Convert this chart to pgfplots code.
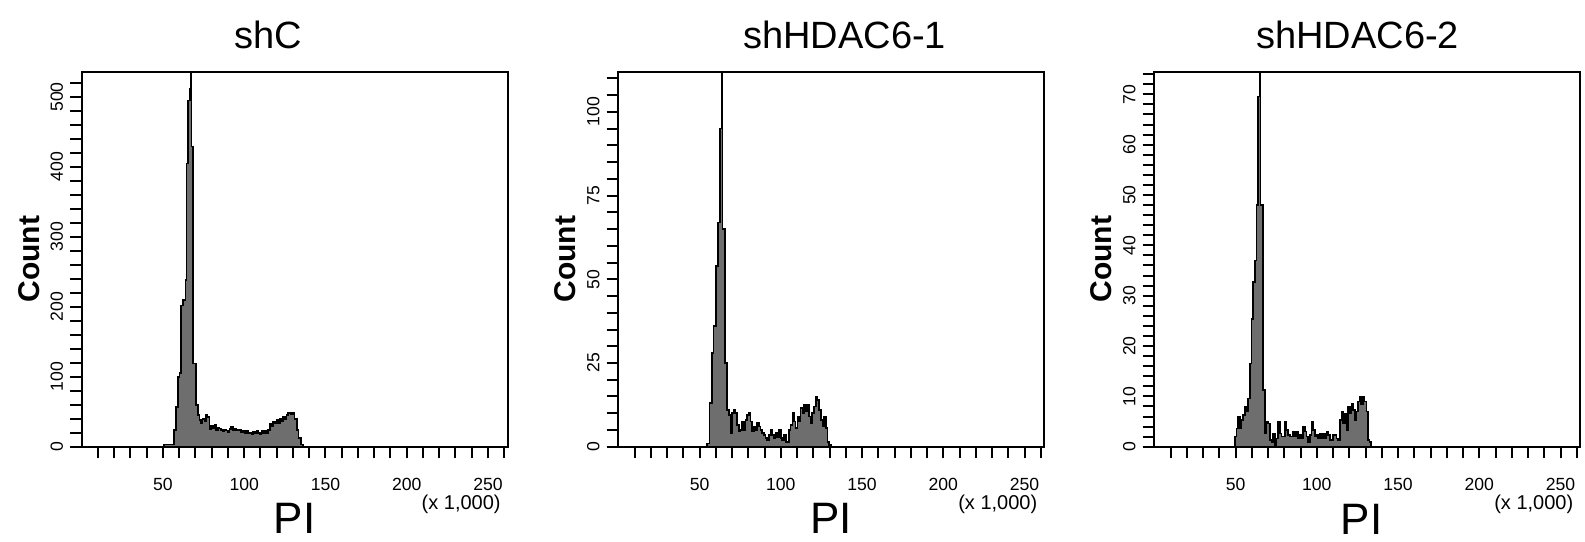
\documentclass[border=0pt]{standalone}
\usepackage{fontspec}
\setmainfont{Liberation Sans}
\usepackage{pgfplots}
\pgfplotsset{compat=1.18}
\definecolor{histgray}{RGB}{110,110,110}
\tikzset{pilabel/.style={anchor=base, inner sep=0pt, font=\fontsize{22}{22}\selectfont}}
\pgfplotsset{
  facs/.style={
    scale only axis, width=213pt, height=187.5pt, anchor=south west,
    xmin=0, xmax=262.144, ymin=0,
    axis line style={line width=1pt},
    tick style={line width=1pt, black},
    tick align=outside, tick pos=left,
    major tick length=5.8pt, minor tick length=5.8pt,
    xtick={50,100,150,200,250},
    minor xtick={10,20,...,260},
    xticklabel style={font=\fontsize{8.8}{10}\selectfont, yshift=-6.5pt},
    yticklabel style={font=\fontsize{8.8}{10}\selectfont, rotate=90, anchor=south},
    /pgf/number format/assume math mode=true,
    clip mode=individual,
  },
  hist/.style={const plot, fill=histgray, draw=black, line width=0.85pt},
}
\begin{document}
\begin{tikzpicture}
\useasboundingbox (0,0) rectangle (792.5pt,270.5pt);
% ---------- shC ----------
\begin{axis}[facs, at={(40.85pt,47.15pt)}, ymax=536,
  ytick={0,100,...,500}, minor ytick={20,40,...,520}]
\addplot[hist] coordinates {(48,0)(50.7,3)(56.6,24)(58,57)(59.1,100)(60.1,105)(61.1,202)(62.5,210)(63.8,238)(64.4,405)(65.6,495)(66.5,512)(67.3,700)(67.6,429)(68.7,119)(70.4,60)(71.4,45)(72.4,38)(73.4,33)(74.4,40)(75.5,36)(76.5,45)(77.5,42)(78.6,25)(79.6,30)(80.6,27)(81.7,31)(82.7,24)(83.7,27)(84.8,26)(85.8,24)(86.8,22)(87.9,24)(88.9,23)(89.9,21)(91,25)(92,29)(93,24)(94.1,26)(95.1,24)(96.1,23)(97.2,24)(98.2,21)(99.2,22)(100.3,20)(101.3,22)(102.3,19)(103.4,20)(104.4,18)(105.4,21)(106.5,19)(107.5,22)(108.5,20)(109.6,18)(110.6,22)(111.6,19)(112.7,23)(113.7,19)(114.7,24)(115.7,33)(116.8,30)(117.8,36)(118.8,34)(119.9,38)(120.9,33)(121.9,40)(123,36)(124,42)(125,40)(126,45)(127,48)(128,49)(129,47)(130,48)(131,40)(132.5,24)(133.5,12)(134.8,3)(136.2,0)} \closedcycle;
\node[anchor=base, font=\fontsize{19}{22}\selectfont] at (rel axis cs:0.5,1) [xshift=-13.3pt, yshift=11.6pt] {shC};
\path (rel axis cs:0,0.5) ++(-26.5pt,0) node[rotate=90, font=\fontsize{15}{18}\selectfont\bfseries] {Count};
\node[pilabel] at (rel axis cs:0.5,0) [yshift=-43.5pt] {PI};
\node[anchor=east, font=\fontsize{10}{12}\selectfont] at (rel axis cs:1,0) [yshift=-29pt] {(x 1,000)};
\end{axis}
% ---------- shHDAC6-1 ----------
\begin{axis}[facs, at={(309.15pt,47.15pt)}, ymax=112,
  ytick={0,25,...,100}, minor ytick={5,10,...,110}]
\addplot[hist] coordinates {(54.6,1)(56.2,13)(57.6,28)(58.6,36)(60,54)(61.2,67)(62.7,95)(63.7,150)(64.1,65)(65.5,25)(66.9,11)(67.9,9.5)(69.0,4)(70.0,10)(71.0,11)(72.1,10)(73.1,6.5)(74.1,4.5)(75.1,5)(76.2,7.5)(77.2,5)(78.2,8)(79.3,9.5)(80.3,10)(81.3,7.5)(82.4,4.5)(83.4,6)(84.4,5)(85.4,7)(86.5,6)(87.5,5)(88.5,4)(89.6,3.5)(90.6,2.5)(91.6,2)(92.7,3.5)(93.7,5)(94.7,3.5)(95.7,2.5)(96.8,4)(97.8,3)(98.8,5)(99.9,2.5)(100.9,2)(101.9,3.5)(103.0,1.5)(104.0,1.5)(105.0,5)(106.0,6.5)(107.1,10)(108.1,7.5)(109.1,5.5)(110.2,9)(111.2,7.5)(112.2,11.5)(113.3,10)(114.3,12.5)(115.3,10.5)(116.3,12.5)(117.4,9)(118.4,7)(119.4,10)(120.5,12)(121.5,15)(122.5,14)(123.6,11)(124.6,8)(125.6,6)(126.6,9)(127.7,5.5)(128.7,1.5)(129.7,0.5)(130.8,0)} \closedcycle;
\node[anchor=base, font=\fontsize{19}{22}\selectfont] at (rel axis cs:0.5,1) [xshift=6.7pt, yshift=11.6pt] {shHDAC6-1};
\path (rel axis cs:0,0.5) ++(-26.5pt,0) node[rotate=90, font=\fontsize{15}{18}\selectfont\bfseries] {Count};
\node[pilabel] at (rel axis cs:0.5,0) [yshift=-43.5pt] {PI};
\node[anchor=east, font=\fontsize{10}{12}\selectfont] at (rel axis cs:1,0) [yshift=-29pt] {(x 1,000)};
\end{axis}
% ---------- shHDAC6-2 ----------
\begin{axis}[facs, at={(577.15pt,47.15pt)}, ymax=74.5,
  ytick={0,10,...,70}, minor ytick={2,4,...,74}]
\addplot[hist] coordinates {(49.6,2)(50.6,3.6)(51.7,6)(52.7,3.6)(53.7,5.3)(54.7,6.3)(55.7,7.9)(56.8,7)(57.8,9.6)(58.8,16.5)(59.8,25.4)(60.9,32.7)(61.9,37)(62.9,48)(63.9,69.6)(64.9,100)(65.4,48)(66.9,11.2)(67.9,2.6)(69.0,5)(70.0,4.6)(71.1,1.3)(72.1,1)(73.1,2.6)(74.2,0.3)(75.2,1.6)(76.2,5)(77.2,2.6)(78.3,2)(79.3,2)(80.3,5)(81.3,3.3)(82.4,2.3)(83.4,2)(84.4,2)(85.5,3)(86.5,2)(87.5,3)(88.5,1.6)(89.6,2.3)(90.6,1.6)(91.6,4)(92.6,3)(93.6,2)(94.7,1)(95.7,2.3)(96.7,5)(97.7,3.3)(98.8,2)(99.8,2.3)(100.8,1.6)(101.8,2.6)(102.9,1.6)(103.9,2.6)(104.9,1.6)(105.9,3)(107.0,2.3)(108.0,1.3)(109.0,1.3)(110.0,2.3)(111.1,2.3)(112.1,1.6)(113.1,1.3)(114.1,5.3)(115.1,7)(116.2,4.6)(117.2,6.6)(118.2,3.3)(119.2,8)(120.3,6.6)(121.3,8.6)(122.3,7.3)(123.3,5.3)(124.4,7)(125.4,9)(126.4,10)(127.4,8.5)(128.4,10)(129.4,9)(130.5,7)(131.5,1.3)(132.5,1)(133.5,0)} \closedcycle;
\node[anchor=base, font=\fontsize{19}{22}\selectfont] at (rel axis cs:0.5,1) [xshift=-4.8pt, yshift=11.6pt] {shHDAC6-2};
\path (rel axis cs:0,0.5) ++(-26.5pt,0) node[rotate=90, font=\fontsize{15}{18}\selectfont\bfseries] {Count};
\node[pilabel] at (rel axis cs:0.5,0) [xshift=-2.8pt, yshift=-44pt] {PI};
\node[anchor=east, font=\fontsize{10}{12}\selectfont] at (rel axis cs:1,0) [yshift=-29pt] {(x 1,000)};
\end{axis}
\end{tikzpicture}
\end{document}
